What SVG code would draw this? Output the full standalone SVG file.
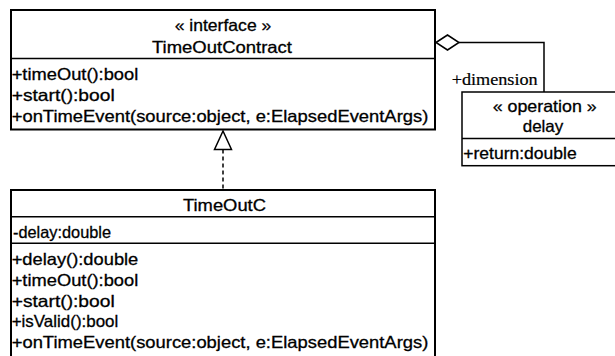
<svg xmlns="http://www.w3.org/2000/svg" width="615" height="356" viewBox="0 0 615 356">
<style>
.box{fill:#fff;stroke:#000;stroke-width:2}
.div{stroke:#000;stroke-width:1.6}
.t{font-family:"Liberation Sans",Arial,sans-serif;font-size:16.5px;fill:#000;stroke:#000;stroke-width:0.3}
.c{text-anchor:middle}
.s{font-family:"Liberation Serif","Times New Roman",serif;font-size:16.5px;fill:#000;stroke:#000;stroke-width:0.2}
.conn{fill:none;stroke:#000;stroke-width:1.5}
</style>
<rect width="615" height="356" fill="#fff"/>
<g id="connectors">
<path class="conn" d="M459,42.5 H544 V92"/>
<polygon points="436,42.5 447.5,35 459,42.5 447.5,50" fill="#fff" stroke="#000" stroke-width="1.5"/>
<text class="s" x="451.7" y="85" textLength="86" lengthAdjust="spacingAndGlyphs">+dimension</text>
<line x1="223" y1="149.5" x2="223" y2="190" stroke="#000" stroke-width="1.5" stroke-dasharray="4,3"/>
<polygon points="223,131 214.5,149.5 231.5,149.5" fill="#fff" stroke="#000" stroke-width="1.5"/>
</g>
<g id="TimeOutContract">
<rect class="box" x="11" y="10" width="424" height="119.5"/>
<line class="div" x1="11" y1="58.5" x2="435" y2="58.5" stroke-width="2"/>
<text class="t c" x="223" y="31" textLength="96.7" lengthAdjust="spacingAndGlyphs">« interface »</text>
<text class="t c" x="222" y="53" textLength="140" lengthAdjust="spacingAndGlyphs">TimeOutContract</text>
<text class="t" x="11.7" y="79.5" textLength="126.6" lengthAdjust="spacingAndGlyphs">+timeOut():bool</text>
<text class="t" x="11.7" y="100.7" textLength="103" lengthAdjust="spacingAndGlyphs">+start():bool</text>
<text class="t" x="11.7" y="121.8" textLength="416.6" lengthAdjust="spacingAndGlyphs">+onTimeEvent(source:object, e:ElapsedEventArgs)</text>
</g>
<g id="delay">
<rect x="462" y="92" width="164" height="73.7" fill="#fff" stroke="#000" stroke-width="1.5"/>
<line class="div" x1="462" y1="138.5" x2="626" y2="138.5"/>
<text class="t c" x="544.7" y="111.7" textLength="104" lengthAdjust="spacingAndGlyphs">« operation »</text>
<text class="t c" x="543" y="131.7" textLength="40.6" lengthAdjust="spacingAndGlyphs">delay</text>
<text class="t" x="463.3" y="158.5" textLength="113.4" lengthAdjust="spacingAndGlyphs">+return:double</text>
</g>
<g id="TimeOutC">
<rect class="box" x="11" y="190" width="424" height="180"/>
<line class="div" x1="11" y1="216.7" x2="435" y2="216.7"/>
<line class="div" x1="11" y1="243.3" x2="435" y2="243.3"/>
<text class="t c" x="224.5" y="210.5" textLength="83" lengthAdjust="spacingAndGlyphs">TimeOutC</text>
<text class="t" x="13" y="237.7" textLength="98" lengthAdjust="spacingAndGlyphs">-delay:double</text>
<text class="t" x="11.7" y="265" textLength="126.6" lengthAdjust="spacingAndGlyphs">+delay():double</text>
<text class="t" x="11.7" y="285.5" textLength="126.6" lengthAdjust="spacingAndGlyphs">+timeOut():bool</text>
<text class="t" x="11.7" y="306.5" textLength="103" lengthAdjust="spacingAndGlyphs">+start():bool</text>
<text class="t" x="11.7" y="327" textLength="106.6" lengthAdjust="spacingAndGlyphs">+isValid():bool</text>
<text class="t" x="11.7" y="348.3" textLength="416.6" lengthAdjust="spacingAndGlyphs">+onTimeEvent(source:object, e:ElapsedEventArgs)</text>
</g>
</svg>
